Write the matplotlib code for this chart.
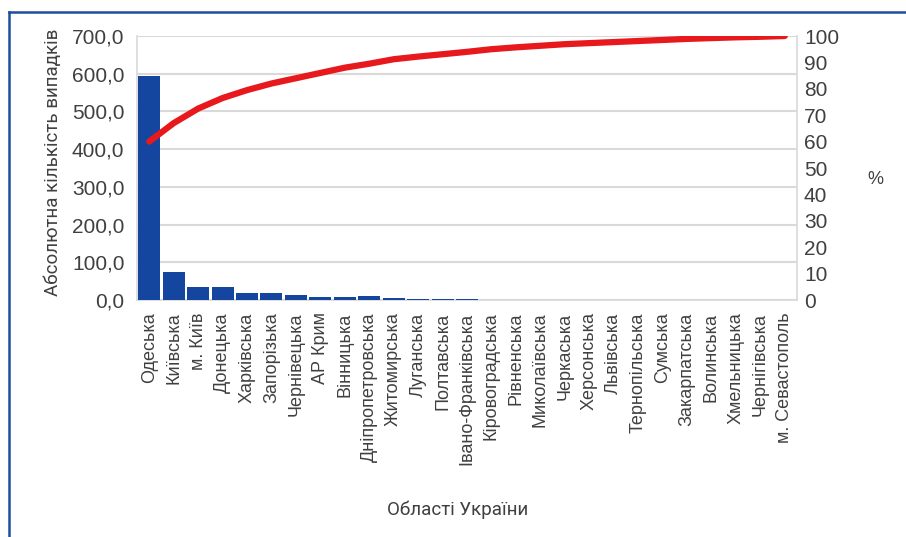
import numpy as np
import matplotlib.pyplot as plt
from matplotlib.lines import Line2D

# regions of Ukraine, sorted by number of cases
regions = ['Одеська', 'Київська', 'м. Київ', 'Донецька', 'Харківська', 'Запорізька',
           'Чернівецька', 'АР Крим', 'Вінницька', 'Дніпропетровська', 'Житомирська',
           'Луганська', 'Полтавська', 'Івано-Франківська', 'Кіровоградська', 'Рівненська',
           'Миколаївська', 'Черкаська', 'Херсонська', 'Львівська', 'Тернопільська',
           'Сумська', 'Закарпатська', 'Волинська', 'Хмельницька', 'Чернігівська',
           'м. Севастополь']
cases = [593, 75, 35, 35, 19, 19, 12, 9, 9, 10, 4, 3, 3, 3,
         0, 0, 0, 0, 0, 0, 0, 0, 0, 0, 0, 0, 0]
cum_pct = [60, 67, 72.5, 76.5, 79.5, 82, 84, 86, 88, 89.5, 91.2, 92.2, 93.1, 94,
           95.0, 95.7, 96.3, 96.9, 97.3, 97.7, 98.1, 98.5, 98.9, 99.2, 99.5, 99.7, 100]
left_ticks = [0, 100, 200, 300, 400, 500, 600, 700]
right_ticks = list(range(0, 101, 10))

txt = '#404040'
grid_c = '#d9d9d9'
narrow = ['Roboto', 'DejaVu Sans']
plt.rcParams['font.family'] = ['Liberation Sans', 'DejaVu Sans']

fig = plt.figure(figsize=(9.06, 5.37), dpi=100)
ax = fig.add_axes([137/906, 1-300/537, 660/906, 264/537])

x = np.arange(len(regions))
ax.bar(x, cases, width=0.9, color='#1446a0', zorder=3)
ax.set_xlim(-0.5, len(regions)-0.5)
ax.set_ylim(0, 700)
ax.set_yticks(left_ticks)
ax.set_yticklabels([f'{v:.1f}'.replace('.', ',') for v in left_ticks])
ax.set_xticks(x)
ax.set_xticklabels(regions, rotation=90, fontsize=13, color=txt)
ax.tick_params(axis='y', length=0, pad=9, labelsize=15, labelcolor=txt)
ax.tick_params(axis='x', length=0, pad=9)
ax.grid(axis='y', color=grid_c, lw=1.5, zorder=0)
for s in ['left', 'right', 'bottom']:
    ax.spines[s].set_color(grid_c)
    ax.spines[s].set_linewidth(1.2)
ax.spines['top'].set_visible(False)

ax.set_ylabel('Абсолютна кількість випадків', family=narrow, fontsize=13.5, color=txt)
ax.yaxis.set_label_coords(-0.114, 0.52)
ax.set_xlabel('Області України', family=narrow, fontsize=13.5, color=txt)
ax.xaxis.set_label_coords(0.486, -0.76)

ax2 = ax.twinx()
ax2.plot(x, cum_pct, color='#e8191c', lw=4.5, solid_capstyle='round',
         solid_joinstyle='round', zorder=4)
ax2.set_ylim(0, 100)
ax2.set_yticks(right_ticks)
ax2.tick_params(axis='y', length=0, pad=5, labelsize=15, labelcolor=txt)
for s in ax2.spines.values():
    s.set_visible(False)
ax2.set_ylabel('%', rotation=0, fontsize=13, color=txt)
ax2.yaxis.set_label_coords(1.118, 0.49)

# blue frame (top and left edges)
fig.add_artist(Line2D([9/906, 1], [1-12/537, 1-12/537], color='#1f4e9e', lw=1.8))
fig.add_artist(Line2D([9/906, 9/906], [0, 1-12/537], color='#1f4e9e', lw=1.8))

fig.savefig('out.png', dpi=100)
